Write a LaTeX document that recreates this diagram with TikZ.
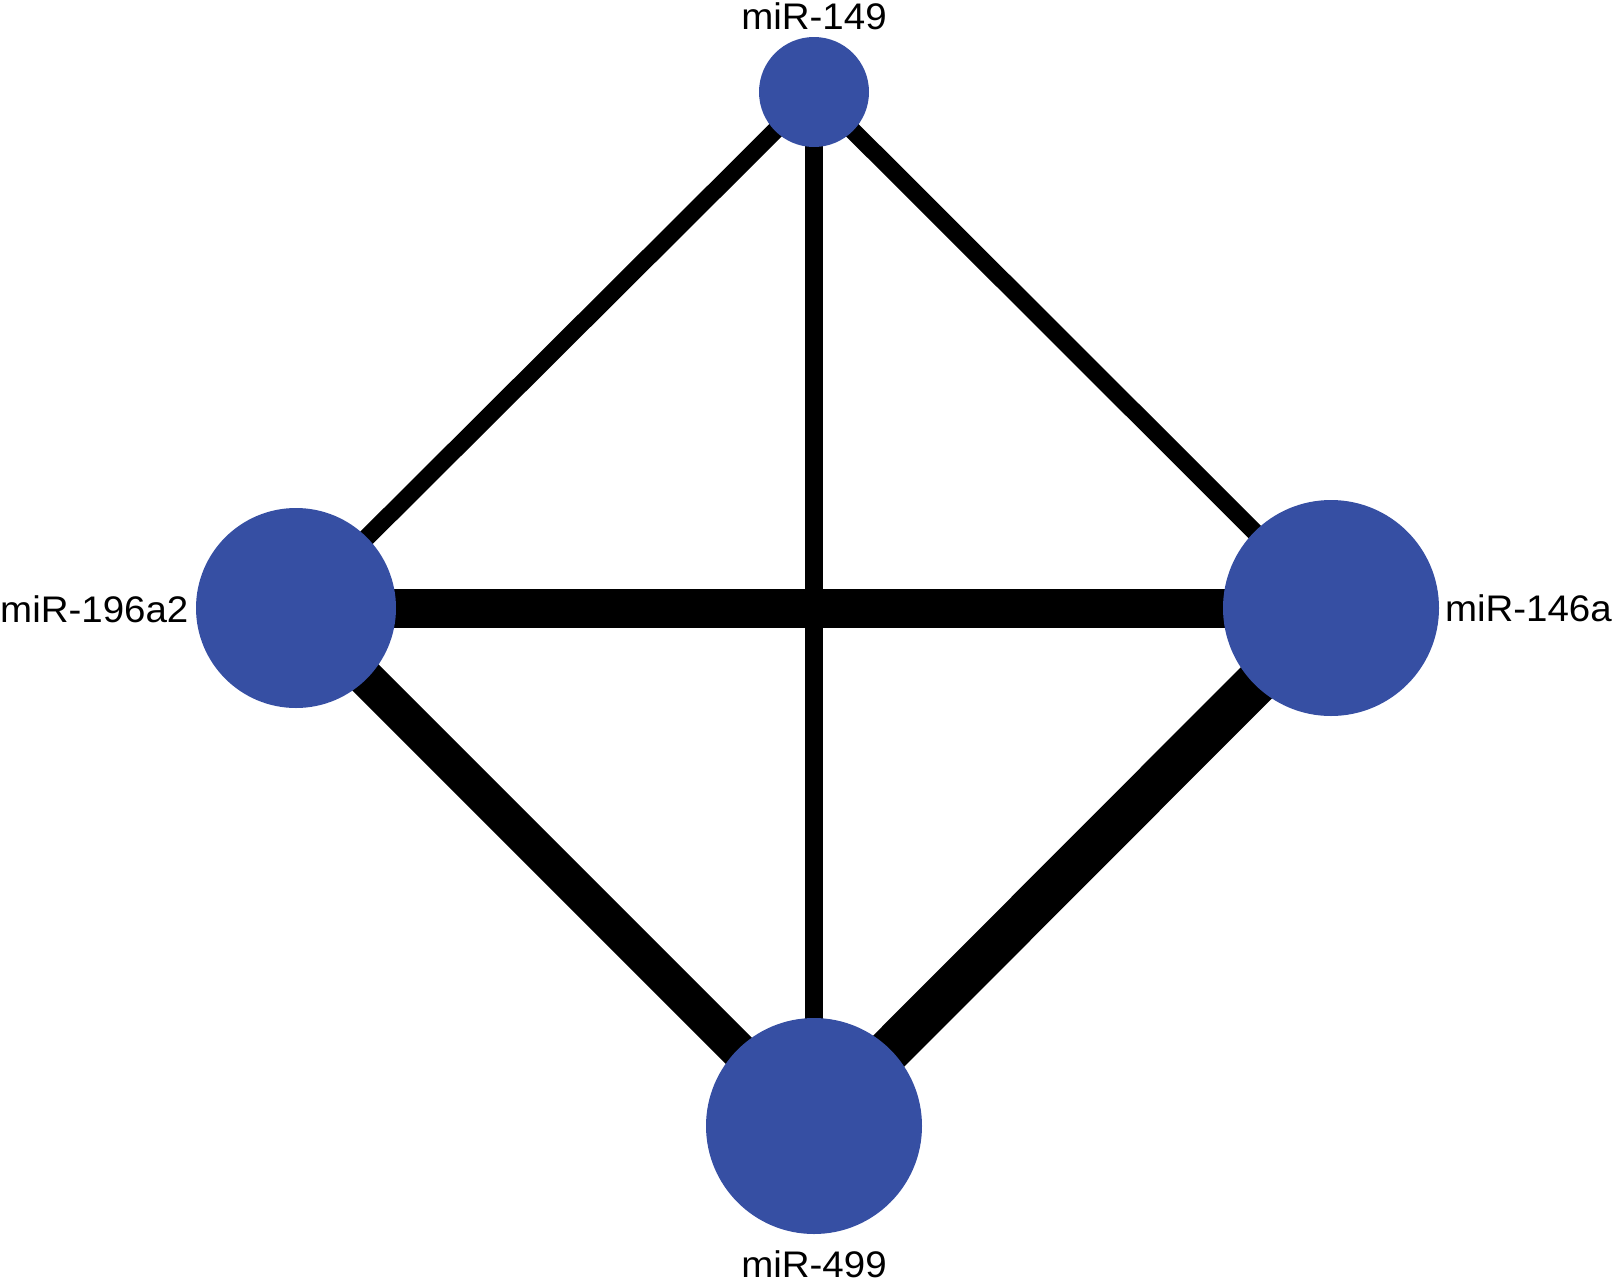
\documentclass[tikz,border=0pt]{standalone}
\usepackage{fontspec}
\setmainfont{Liberation Sans}
\definecolor{nodeblue}{RGB}{54,79,163}
\pgfdeclarelayer{bg}
\pgfsetlayers{bg,main}
\begin{document}
\begin{tikzpicture}[x=1pt,y=-1pt,
  mirna/.style={circle,fill=nodeblue,draw=none,inner sep=0pt},
  lbl/.style={inner sep=0pt,font=\fontsize{37}{42}\selectfont,xscale=1.04},
  edge/.style={draw=black,line cap=butt}]
\useasboundingbox (0,0) rectangle (1614,1282);
\node[mirna,minimum size=110pt] (n149) at (814,92) {};
\node[mirna,minimum size=200pt] (n196) at (296,608) {};
\node[mirna,minimum size=216pt] (n146) at (1331,608) {};
\node[mirna,minimum size=216pt] (n499) at (814,1126) {};
\node[lbl,anchor=base] (l149) at (814,29) {miR-149};
\node[lbl,anchor=base west] (l196) at (0,622) {miR-196a2};
\node[lbl,anchor=base east] (l146) at (1612,621) {miR-146a};
\node[lbl,anchor=base] (l499) at (814,1277) {miR-499};
\begin{pgfonlayer}{bg}
\draw[edge,line width=17.5pt] (n149.center) -- (n196.center);
\draw[edge,line width=17.5pt] (n149.center) -- (n146.center);
\draw[edge,line width=17.5pt] (n149.center) -- (n499.center);
\draw[edge,line width=39pt] (n196.center) -- (n146.center);
\draw[edge,line width=37pt] (n196.center) -- (n499.center);
\draw[edge,line width=44pt] (n146.center) -- (n499.center);
\end{pgfonlayer}
\end{tikzpicture}
\end{document}
